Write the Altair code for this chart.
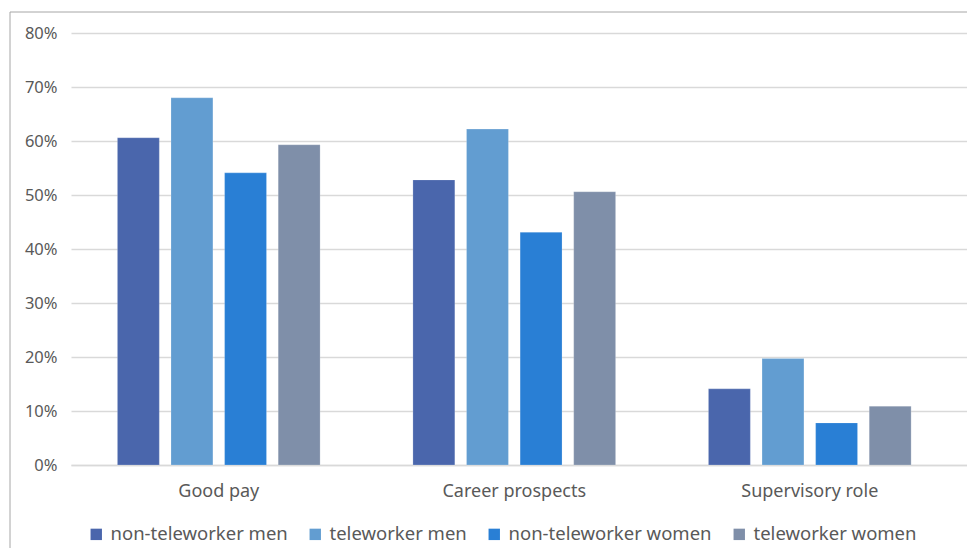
import altair as alt
import pandas as pd

categories = ["Good pay", "Career prospects", "Supervisory role"]
series = ["non-teleworker men", "teleworker men", "non-teleworker women", "teleworker women"]
colors = ["#4A66AC", "#629DD1", "#297FD5", "#7F8FA9"]
values = {
    "non-teleworker men": [0.606, 0.528, 0.141],
    "teleworker men": [0.680, 0.622, 0.197],
    "non-teleworker women": [0.541, 0.431, 0.078],
    "teleworker women": [0.593, 0.506, 0.109],
}

rows = []
for s in series:
    for c, v in zip(categories, values[s]):
        rows.append({"category": c, "series": s, "value": v})
df = pd.DataFrame(rows)

FONT = "Noto Sans"
GREY = "#595959"

bars = alt.Chart(df).mark_bar(stroke="white", strokeWidth=0.5, strokeOpacity=0.4).encode(
    x=alt.X("category:N", sort=categories, title=None,
            scale=alt.Scale(paddingInner=0, paddingOuter=0.016, align=0),
            axis=alt.Axis(labelAngle=0, ticks=False, labelPadding=17, labelFontSize=18,
                          labelColor=GREY, labelFont=FONT, domainColor="#D9D9D9", domainWidth=1.5)),
    xOffset=alt.XOffset("series:N", sort=series,
                        scale=alt.Scale(paddingInner=0.218, paddingOuter=0.866)),
    y=alt.Y("value:Q", title=None,
            scale=alt.Scale(domain=[0, 0.8]),
            axis=alt.Axis(format=".0%", values=[0, 0.1, 0.2, 0.3, 0.4, 0.5, 0.6, 0.7, 0.8],
                          ticks=False, domain=False, labelPadding=14, labelFontSize=16.5,
                          labelColor=GREY, labelFont=FONT, gridColor="#D9D9D9", gridWidth=1.5)),
    color=alt.Color("series:N", sort=series,
                    scale=alt.Scale(domain=series, range=colors),
                    legend=alt.Legend(title=None, orient="none", direction="horizontal",
                                      legendX=16, legendY=492, symbolType="square",
                                      symbolSize=130, symbolStrokeWidth=0, labelFontSize=18.5,
                                      labelColor=GREY, labelFont=FONT, columnPadding=18,
                                      labelOffset=5, labelLimit=400)),
)

border = alt.Chart(pd.DataFrame({"a": [0]})).mark_rect(
    fill=None, stroke="#A6A6A6", strokeWidth=1
).encode(x=alt.value(-61), x2=alt.value(1000), y=alt.value(-21), y2=alt.value(600))

chart = alt.layer(border, bars).properties(
    width=896, height=432,
    autosize=alt.AutoSizeParams(type="none"),
    padding={"left": 63, "top": 25, "right": 0, "bottom": 83},
).configure_view(stroke=None)

chart.save("out.html", embed_options={"renderer": "svg", "actions": False})
